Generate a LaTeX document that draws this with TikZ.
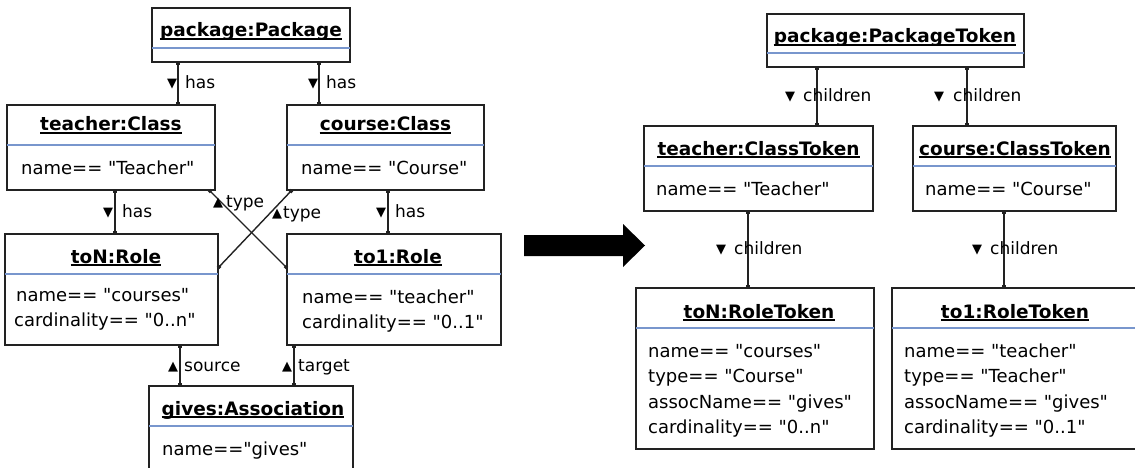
\documentclass[tikz,border=0pt]{standalone}
\usepackage{fontspec}
\setmainfont{DejaVu Sans}[Ligatures=TeXOff]
\usetikzlibrary{arrows.meta}
\definecolor{edgegray}{HTML}{222222}
\definecolor{sepblue}{RGB}{120,150,205}
\tikzset{
  objbox/.style={draw=edgegray, line width=1.3pt, rectangle, inner sep=0pt, outer sep=0pt, anchor=north west},
  sepline/.style={draw=sepblue, line width=1.1pt},
  objtitle/.style={inner sep=0pt, anchor=base, font=\bfseries\fontsize{18.5}{20}\selectfont},
  attr/.style={inner sep=0pt, anchor=base west, font=\fontsize{18}{20}\selectfont},
  rolelbl/.style={inner sep=0pt, anchor=base west, font=\fontsize{17}{20}\selectfont},
  conn/.style={draw=edgegray, line width=1.4pt, {Square[length=3pt,width=3.5pt]}-{Square[length=3pt,width=3.5pt]}},
  ulline/.style={draw=black, line width=1.2pt},
}
% small direction triangles used in role labels
\newcommand{\tridown}{\raisebox{1pt}{\fontsize{13}{13}\selectfont ▼}}
\newcommand{\triup}{\raisebox{1pt}{\fontsize{13}{13}\selectfont ▲}}
% object box: name, x, y, width, height, separator drop, title x, title baseline, title
\newcommand{\umlobject}[9]{%
  \node[objbox, minimum width=#4pt, minimum height=#5pt] (#1) at (#2,#3) {};
  \draw[sepline] ([yshift=-#6pt]#1.north west) -- ([yshift=-#6pt]#1.north east);
  \node[objtitle] (#1-t) at (#7,#8) {#9};
  \draw[ulline] ([yshift=-2pt]#1-t.base west) -- ([yshift=-2pt]#1-t.base east);
}
\begin{document}
\begin{tikzpicture}[x=1pt, y=-1pt]
\useasboundingbox (0,0) rectangle (1135,468);

% ---------- source model ----------
\umlobject{pkg}{152}{8}{198}{54}{40}{251}{37}{package:Package}
\umlobject{tc}{7}{105}{208}{85}{40}{111}{131}{teacher:Class}
\umlobject{cc}{287}{105}{197}{85}{40}{385.5}{131}{course:Class}
\umlobject{toN}{5}{234}{213}{111}{40}{116}{263}{toN:Role}
\umlobject{to1}{287}{234}{214}{111}{40}{398}{263}{to1:Role}
\umlobject{gives}{149}{386}{204}{100}{40}{253}{415}{gives:Association}

\node[attr] (tc-a1) at (21,175) {name== "Teacher"};
\node[attr] (cc-a1) at (301,175) {name== "Course"};
\node[attr] (toN-a1) at (16,301) {name== "courses"};
\node[attr] (toN-a2) at (14,326) {cardinality== "0..n"};
\node[attr] (to1-a1) at (302,303) {name== "teacher"};
\node[attr] (to1-a2) at (302,328) {cardinality== "0..1"};
\node[attr] (gives-a1) at (162,455) {name=="gives"};

\coordinate (xa) at (178,0);
\coordinate (xb) at (319,0);
\coordinate (xc) at (115,0);
\coordinate (xd) at (388,0);
\coordinate (xe) at (180,0);
\coordinate (xf) at (294,0);

\draw[conn] (pkg.south -| xa) -- (tc.north -| xa);
\draw[conn] (pkg.south -| xb) -- (cc.north -| xb);
\draw[conn] (tc.south -| xc) -- (toN.north -| xc);
\draw[conn] (cc.south -| xd) -- (to1.north -| xd);
\draw[conn] (toN.south -| xe) -- (gives.north -| xe);
\draw[conn] (to1.south -| xf) -- (gives.north -| xf);
\draw[conn] ([xshift=-6pt]tc.south east) -- ([yshift=-34pt]to1.north west);
\draw[conn] ([xshift=5pt]cc.south west) -- ([yshift=-34pt]toN.north east);

\node[rolelbl] (l-has1) at (167,89) {\makebox[18pt][l]{\tridown}has};
\node[rolelbl] (l-has2) at (308,89) {\makebox[18pt][l]{\tridown}has};
\node[rolelbl] (l-has3) at (103,217) {\makebox[19pt][l]{\tridown}has};
\node[rolelbl] (l-has4) at (376,217) {\makebox[19pt][l]{\tridown}has};
\node[rolelbl] (l-type1) at (213,207) {\makebox[13pt][l]{\triup}type};
\node[rolelbl] (l-type2) at (272,218) {\makebox[11pt][l]{\triup}type};
\node[rolelbl] (l-src) at (168,371) {\makebox[16pt][l]{\triup}source};
\node[rolelbl] (l-tgt) at (282,371) {\makebox[16pt][l]{\triup}target};

% ---------- transformation arrow ----------
\fill[black] (524,235) -- (623,235) -- (623,224) -- (645,245.5) -- (623,267) -- (623,256) -- (524,256) -- cycle;

% ---------- token model ----------
\umlobject{ppt}{767}{14}{257}{53}{39}{895}{43}{package:PackageToken}
\umlobject{tct}{644}{126}{229}{85}{40}{758.5}{155}{teacher:ClassToken}
\umlobject{cct}{913}{126}{203}{85}{40}{1015}{155}{course:ClassToken}
\umlobject{tRT}{636}{288}{238}{161}{40}{759}{318}{toN:RoleToken}
\umlobject{oRT}{892}{288}{250}{161}{40}{1015}{318}{to1:RoleToken}

\node[attr] (tct-a1) at (656,195) {name== "Teacher"};
\node[attr] (cct-a1) at (925,195) {name== "Course"};
\node[attr] (tRT-a1) at (648,357) {name== "courses"};
\node[attr] (tRT-a2) at (648,382) {type== "Course"};
\node[attr] (tRT-a3) at (648,408) {assocName== "gives"};
\node[attr] (tRT-a4) at (648,433) {cardinality== "0..n"};
\node[attr] (oRT-a1) at (904,357) {name== "teacher"};
\node[attr] (oRT-a2) at (904,382) {type== "Teacher"};
\node[attr] (oRT-a3) at (904,408) {assocName== "gives"};
\node[attr] (oRT-a4) at (904,433) {cardinality== "0..1"};

\coordinate (xg) at (817,0);
\coordinate (xh) at (967,0);
\coordinate (xi) at (748,0);
\coordinate (xj) at (1004,0);

\draw[conn] (ppt.south -| xg) -- (tct.north -| xg);
\draw[conn] (ppt.south -| xh) -- (cct.north -| xh);
\draw[conn] (tct.south -| xi) -- (tRT.north -| xi);
\draw[conn] (cct.south -| xj) -- (oRT.north -| xj);

\node[rolelbl] (l-ch1) at (785,102) {\makebox[18pt][l]{\tridown}children};
\node[rolelbl] (l-ch2) at (934,102) {\makebox[19pt][l]{\tridown}children};
\node[rolelbl] (l-ch3) at (716,254) {\makebox[18pt][l]{\tridown}children};
\node[rolelbl] (l-ch4) at (972,254) {\makebox[18pt][l]{\tridown}children};
\end{tikzpicture}
\end{document}
